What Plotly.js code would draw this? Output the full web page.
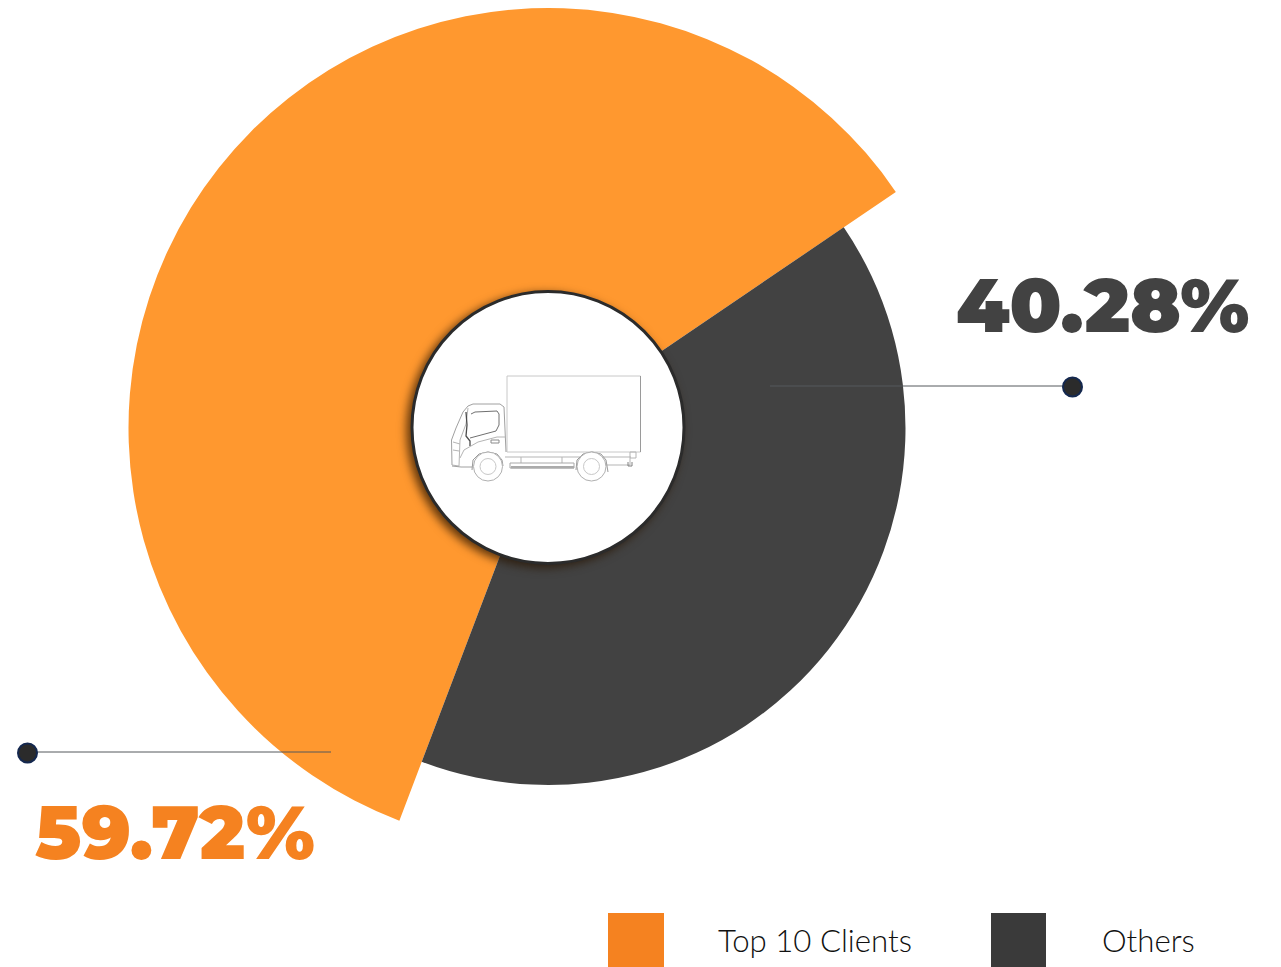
<!DOCTYPE html>
<html>
<head>
<meta charset="utf-8">
<script src="https://cdn.plot.ly/plotly-3.0.1.min.js"></script>
<style>
  html, body { margin: 0; padding: 0; background: #fff; overflow: hidden; }
  #chart { width: 1281px; height: 967px; }
</style>
</head>
<body>
<div id="chart"></div>
<script>
// Client share of revenue
const categories = ["Top 10 Clients", "Others"];
const shares = [59.72, 40.28];
const shareLabels = ["59.72%", "40.28%"];

const W = 1281, H = 967;
const ORANGE = "#FF982F", DARK = "#424242";
const LEGEND_ORANGE = "#F58220", LEGEND_DARK = "#3A3A3A";
const CX = 548.5, CY = 428, R_TOP = 420, R_OTHERS = 357, R_HUB = 136;
const START_ANGLE = 200.8;

const fx = x => x / W;
const fy = y => 1 - y / H;

function ring(radius, colors) {
  return {
    type: "pie", sort: false, direction: "clockwise", rotation: START_ANGLE,
    labels: categories, values: shares, hole: R_HUB / radius,
    textinfo: "none", hoverinfo: "label+percent", showlegend: false,
    marker: { colors: colors, line: { width: 0 } },
    domain: {
      x: [fx(CX - radius), fx(CX + radius)],
      y: [fy(CY + radius), fy(CY - radius)]
    }
  };
}

function circle(x, y, r, fill, stroke, width) {
  return {
    type: "circle", xref: "paper", yref: "paper", layer: "above",
    x0: fx(x - r), x1: fx(x + r), y0: fy(y + r), y1: fy(y - r),
    fillcolor: fill, line: { color: stroke, width: width }
  };
}

function rect(x0, y0, x1, y1, fill) {
  return {
    type: "rect", xref: "paper", yref: "paper", layer: "above",
    x0: fx(x0), x1: fx(x1), y0: fy(y1), y1: fy(y0),
    fillcolor: fill, line: { width: 0 }
  };
}

function outline(points, color, width, closed) {
  const d = points.map((p, i) => (i ? "L" : "M") + fx(p[0]) + "," + fy(p[1])).join(" ");
  return {
    type: "path", xref: "paper", yref: "paper", layer: "above",
    path: d + (closed ? " Z" : ""),
    line: { color: color, width: width },
    fillcolor: closed ? "rgba(255,255,255,0)" : undefined
  };
}

function leader(x0, x1, y) {
  return outline([[x0, y], [x1, y]], "#55585c", 1, false);
}

// Delivery truck line drawing inside the hub
const INK = "#b5b5b5", INK_DARK = "#707070";
const truck = [
  outline([[507, 376], [640.5, 376], [640.5, 452], [507, 452]], "#c8c8c8", 1, true),
  outline([[640.5, 376], [640.5, 452]], "#9a9a9a", 1, false),
  // cab shell
  outline([[452, 465], [451.5, 440], [456, 428], [463, 412], [468, 406], [473, 404],
           [500, 404], [504, 407], [506, 452]], "#a0a0a0", 1, false),
  outline([[452, 465], [459, 466], [460, 440], [466, 424], [468, 408]], INK, 1, false),
  // side window
  outline([[471, 414], [475, 412], [497, 411], [499, 414], [499, 425], [496, 431],
           [470, 438]], INK_DARK, 1, false),
  outline([[466, 412], [467, 425], [466, 436], [470, 441], [470, 446]], "#4c4c4c", 1.3, false),
  // door sweep and handle
  outline([[460, 458], [464, 450], [478, 442], [497, 437], [505, 437]], INK, 1, false),
  outline([[491, 440], [499, 440], [499, 443], [491, 443]], "#8a8a8a", 1, true),
  outline([[453, 450], [459, 451]], INK, 1, false),
  outline([[453, 442], [460, 444]], INK, 1, false),
  // chassis rails and side skirt
  outline([[505, 457], [631, 457]], INK, 1, false),
  outline([[630, 452], [636, 452], [636, 458], [630, 458]], INK, 1, true),
  outline([[601, 465], [630, 465], [630, 458]], INK, 1, false),
  outline([[521, 457], [521, 463]], INK, 1, false),
  outline([[562, 457], [562, 463]], INK, 1, false),
  outline([[510, 463], [574, 463], [574, 468], [510, 468]], "#a8a8a8", 1, true),
  rect(511, 466, 574, 468.5, "#ababab"),
  outline([[628, 462], [628, 466], [632, 466], [632, 462]], "#808080", 1, false),
  outline([[452, 466], [461, 467], [472, 467]], "#a0a0a0", 1, false),
  // wheel arches and wheels
  outline([[472, 470], [473, 460], [479, 454], [488, 452], [497, 454], [502, 460], [503, 466]], "#9a9a9a", 1, false),
  outline([[576, 470], [577, 460], [583, 454], [592, 452], [601, 454], [606, 460], [608, 472]], "#9a9a9a", 1, false),
  circle(488, 466.5, 14.5, "#ffffff", "#b0b0b0", 1),
  circle(488, 466.5, 8, "#ffffff", "#c8c8c8", 1),
  circle(591.5, 466.5, 14.5, "#ffffff", "#b0b0b0", 1),
  circle(591.5, 466.5, 8, "#ffffff", "#c8c8c8", 1)
];

const shapes = [
  circle(548, 427.5, R_HUB, "#ffffff", "#2b2b2b", 3),
  ...truck,
  leader(770, 1072, 386),
  leader(28, 331, 752),
  circle(1072.5, 387, 9.5, "#2b2b2b", "#14284f", 2),
  circle(27.5, 753, 9.5, "#2b2b2b", "#14284f", 2),
  rect(608, 913, 664, 967, LEGEND_ORANGE),
  rect(991, 913, 1046, 967, LEGEND_DARK)
];

function note(text, x, y, size, color, weight, family) {
  return {
    text: text, xref: "paper", yref: "paper", x: fx(x), y: fy(y),
    xanchor: "left", yanchor: "middle", showarrow: false, borderpad: 0,
    font: { family: family, size: size, color: color, weight: weight }
  };
}

const HEAVY = "Montserrat, Inter, Lato, sans-serif";
const LIGHT = "Lato, 'Open Sans', sans-serif";
const annotations = [
  note(shareLabels[1], 955, 305, 75.3, DARK, 900, HEAVY),
  note(shareLabels[0], 34, 832, 75, LEGEND_ORANGE, 900, HEAVY),
  note(categories[0], 717, 940, 31.2, "#111111", 300, LIGHT),
  note(categories[1], 1101, 940, 31.2, "#111111", 300, LIGHT)
];

const layout = {
  width: W, height: H,
  margin: { l: 0, r: 0, t: 0, b: 0, pad: 0 },
  paper_bgcolor: "#ffffff", plot_bgcolor: "#ffffff",
  showlegend: false, shapes: shapes, annotations: annotations
};

const traces = [
  ring(R_TOP, [ORANGE, "rgba(0,0,0,0)"]),
  ring(R_OTHERS, ["rgba(0,0,0,0)", DARK])
];

Plotly.newPlot("chart", traces, layout, { displayModeBar: false, responsive: false }).then(gd => {
  // Soft shadow falling to the lower left of the hub
  const hub = gd.querySelector(".shapelayer path");
  if (hub) hub.style.filter = "drop-shadow(-4px 3px 5px rgba(40,20,0,0.75))";
});
</script>
</body>
</html>
